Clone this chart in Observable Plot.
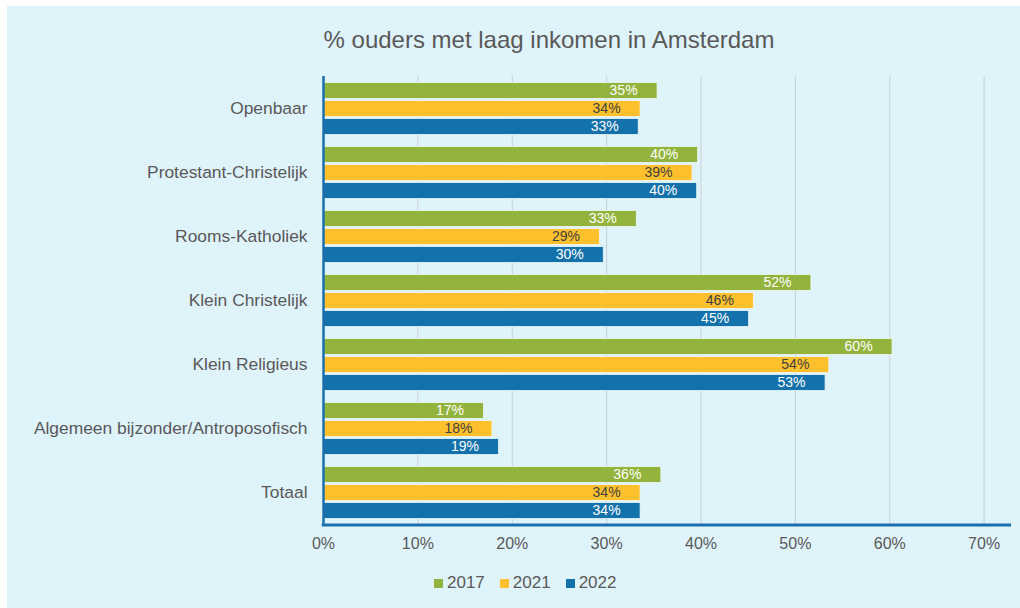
<!DOCTYPE html>
<html><head><meta charset="utf-8">
<script src="https://cdn.jsdelivr.net/npm/d3@7"></script>
<script src="https://cdn.jsdelivr.net/npm/@observablehq/plot@0.6"></script>
<style>
body{margin:0;background:#fff;font-family:"Liberation Sans",Arial,sans-serif;}
#panel{position:absolute;left:7px;top:6px;width:1013px;height:602px;background:#dff3fb;overflow:hidden;}
#title{position:absolute;left:0;top:21.7px;width:1084px;text-align:center;font-size:24px;line-height:24px;color:#595959;}
#chart{position:absolute;left:0;top:62px;}
#legend{position:absolute;left:427px;top:566px;display:flex;align-items:center;font-size:17px;line-height:22px;color:#595959;}
#legend .item{display:flex;align-items:center;margin-right:15px;}
#legend .sw{width:9px;height:9px;margin-right:4px;}
</style>
</head><body>
<div id="panel">
  <div id="title">% ouders met laag inkomen in Amsterdam</div>
  <div id="chart"></div>
  <div id="legend"></div>
</div>
<script>
const categories = ["Openbaar","Protestant-Christelijk","Rooms-Katholiek","Klein Christelijk","Klein Religieus","Algemeen bijzonder/Antroposofisch","Totaal"];
const years = ["2017","2021","2022"];
const v2017 = [35.4, 39.7, 33.2, 51.7, 60.3, 17.0, 35.8];
const v2021 = [33.6, 39.1, 29.3, 45.6, 53.6, 17.9, 33.6];
const v2022 = [33.4, 39.6, 29.7, 45.1, 53.2, 18.6, 33.6];
const xTicks = [0, 10, 20, 30, 40, 50, 60, 70];
const colors = ["#92b33c", "#fec12d", "#1371ab"];
const axisBlue = "#1a70ad";

const series = [v2017, v2021, v2022];
const rows = [];
categories.forEach((c, i) => years.forEach((y, j) => rows.push({cat: c, year: y, value: series[j][i]})));

const W = 1013, H = 497, mL = 316, mR = 9, mT = 6.5, mB = 40;

const plot = Plot.plot({
  width: W, height: H,
  marginLeft: mL, marginRight: mR, marginTop: mT, marginBottom: mB,
  style: {background: "transparent", fontSize: "16px", fontFamily: "Liberation Sans, Arial, sans-serif", color: "#595959"},
  x: {domain: [0, 72.9], axis: null},
  y: {domain: years, paddingInner: 0.135, paddingOuter: 0.3, axis: null},
  fy: {domain: categories, padding: 0, axis: null},
  color: {domain: years, range: colors},
  marks: [
    Plot.gridX(xTicks.filter(d => d > 0), {stroke: "#c9cfd2", strokeOpacity: 1, strokeWidth: 1}),
    Plot.barX(rows, {x: "value", y: "year", fy: "cat", fill: "year", stroke: "#eef8fb", strokeWidth: 0.8}),
    Plot.text(rows, {x: "value", y: "year", fy: "cat", text: d => Math.round(d.value) + "%",
      textAnchor: "end", dx: -20, fontSize: 14,
      fill: d => d.year === "2021" ? "#404040" : "#ffffff"}),
    Plot.ruleX([0], {stroke: axisBlue, strokeWidth: 2.5}),
    Plot.axisX({ticks: xTicks, tickFormat: d => d + "%", tickSize: 0, tickPadding: 13.5, fontSize: 16, fill: "#595959", label: null}),
    Plot.axisFy({anchor: "left", tickSize: 0, tickPadding: 16, fontSize: 17.4, fill: "#595959", label: null})
  ]
});

// bottom axis line
const xs = plot.scale("x");
d3.select(plot).append("line")
  .attr("x1", xs.range[0] - 1.25).attr("x2", xs.range[1])
  .attr("y1", H - mB).attr("y2", H - mB)
  .attr("stroke", axisBlue).attr("stroke-width", 3);

document.getElementById("chart").appendChild(plot);

const legend = document.getElementById("legend");
years.forEach((y, j) => {
  const it = document.createElement("div");
  it.className = "item";
  const sw = document.createElement("div");
  sw.className = "sw";
  sw.style.background = colors[j];
  const t = document.createElement("span");
  t.textContent = y;
  it.appendChild(sw); it.appendChild(t);
  legend.appendChild(it);
});
</script>
</body></html>
